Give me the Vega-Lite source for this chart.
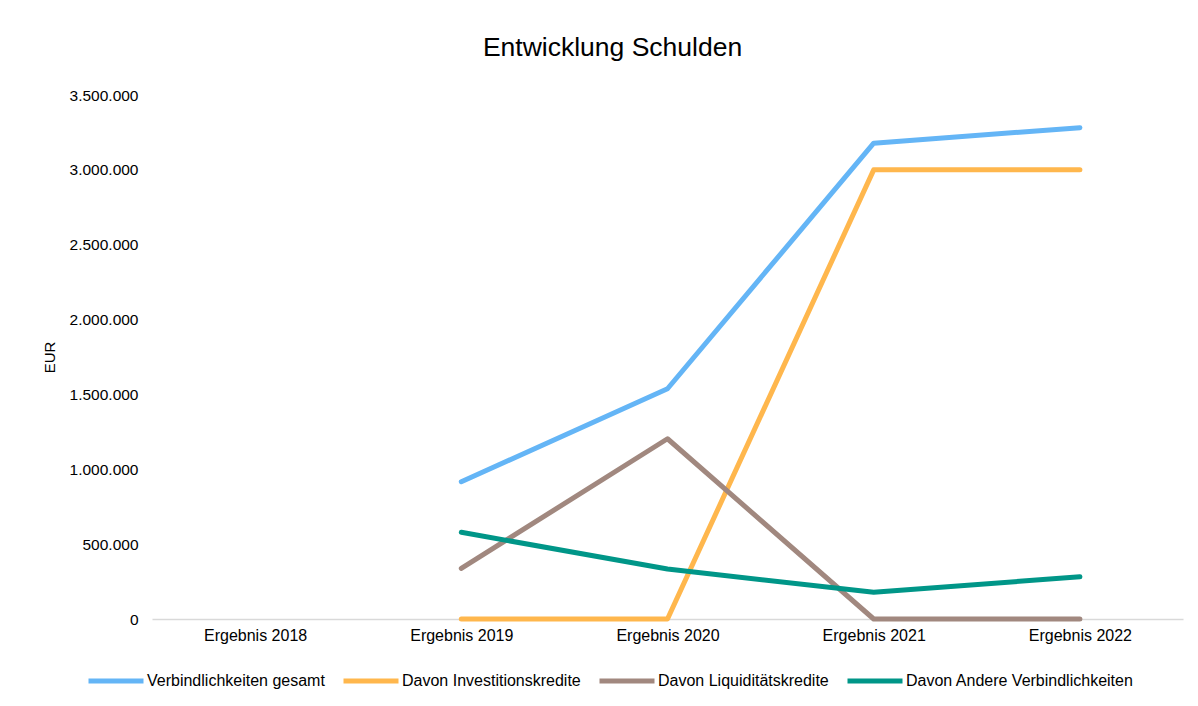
{
  "$schema": "https://vega.github.io/schema/vega-lite/v6.json",
  "autosize": "none",
  "width": 1031,
  "height": 524,
  "padding": {"left": 152, "top": 95, "right": 15, "bottom": 87},
  "background": "white",
  "title": {
    "text": "Entwicklung Schulden",
    "fontSize": 26.5,
    "font": "Liberation Sans",
    "fontWeight": "normal",
    "color": "#000000",
    "anchor": "middle",
    "frame": "bounds",
    "offset": 27
  },
  "data": {
    "values": [
      {"jahr": "Ergebnis 2019", "serie": "Verbindlichkeiten gesamt", "wert": 917000},
      {"jahr": "Ergebnis 2020", "serie": "Verbindlichkeiten gesamt", "wert": 1538000},
      {"jahr": "Ergebnis 2021", "serie": "Verbindlichkeiten gesamt", "wert": 3178000},
      {"jahr": "Ergebnis 2022", "serie": "Verbindlichkeiten gesamt", "wert": 3282000},
      {"jahr": "Ergebnis 2019", "serie": "Davon Investitionskredite", "wert": 0},
      {"jahr": "Ergebnis 2020", "serie": "Davon Investitionskredite", "wert": 0},
      {"jahr": "Ergebnis 2021", "serie": "Davon Investitionskredite", "wert": 3000000},
      {"jahr": "Ergebnis 2022", "serie": "Davon Investitionskredite", "wert": 3000000},
      {"jahr": "Ergebnis 2019", "serie": "Davon Liquiditätskredite", "wert": 338000},
      {"jahr": "Ergebnis 2020", "serie": "Davon Liquiditätskredite", "wert": 1204000},
      {"jahr": "Ergebnis 2021", "serie": "Davon Liquiditätskredite", "wert": 0},
      {"jahr": "Ergebnis 2022", "serie": "Davon Liquiditätskredite", "wert": 0},
      {"jahr": "Ergebnis 2019", "serie": "Davon Andere Verbindlichkeiten", "wert": 579000},
      {"jahr": "Ergebnis 2020", "serie": "Davon Andere Verbindlichkeiten", "wert": 334000},
      {"jahr": "Ergebnis 2021", "serie": "Davon Andere Verbindlichkeiten", "wert": 178000},
      {"jahr": "Ergebnis 2022", "serie": "Davon Andere Verbindlichkeiten", "wert": 282000}
    ]
  },
  "mark": {"type": "line", "strokeWidth": 5, "strokeCap": "round", "strokeJoin": "round"},
  "encoding": {
    "x": {
      "field": "jahr",
      "type": "nominal",
      "sort": null,
      "scale": {"type": "point", "padding": 0.5, "domain": ["Ergebnis 2018", "Ergebnis 2019", "Ergebnis 2020", "Ergebnis 2021", "Ergebnis 2022"]},
      "axis": {
        "title": null,
        "labelAngle": 0,
        "ticks": false,
        "grid": false,
        "domainColor": "#d9d9d9",
        "domainWidth": 1.5,
        "labelPadding": 8,
        "labelFontSize": 16,
        "labelColor": "#000000",
        "labelFont": "Liberation Sans"
      }
    },
    "y": {
      "field": "wert",
      "type": "quantitative",
      "scale": {"domain": [0, 3500000], "nice": false},
      "axis": {
        "title": "EUR",
        "values": [0, 500000, 1000000, 1500000, 2000000, 2500000, 3000000, 3500000],
        "format": ",.0f",
        "grid": false,
        "domain": false,
        "ticks": false,
        "labelPadding": 14,
        "labelFontSize": 15.5,
        "labelColor": "#000000",
        "labelFont": "Liberation Sans",
        "titleFont": "Liberation Sans",
        "titleFontSize": 15,
        "titleFontWeight": "normal",
        "titleColor": "#000000",
        "titlePadding": 12
      }
    },
    "color": {
      "field": "serie",
      "type": "nominal",
      "scale": {
        "domain": ["Verbindlichkeiten gesamt", "Davon Investitionskredite", "Davon Liquiditätskredite", "Davon Andere Verbindlichkeiten"],
        "range": ["#64B5F6", "#FFB74D", "#A1887F", "#009688"]
      },
      "legend": {
        "title": null,
        "orient": "none",
        "direction": "horizontal",
        "legendX": -66,
        "legendY": 556,
        "symbolType": "stroke",
        "symbolSize": 3025,
        "symbolStrokeWidth": 5,
        "labelFontSize": 16,
        "labelFont": "Liberation Sans",
        "labelColor": "#000000",
        "labelOffset": 1,
        "labelLimit": 400,
        "columnPadding": 8
      }
    }
  },
  "config": {
    "view": {"stroke": null},
    "locale": {
      "number": {"decimal": ",", "thousands": ".", "grouping": [3], "currency": ["", " €"]}
    }
  }
}
